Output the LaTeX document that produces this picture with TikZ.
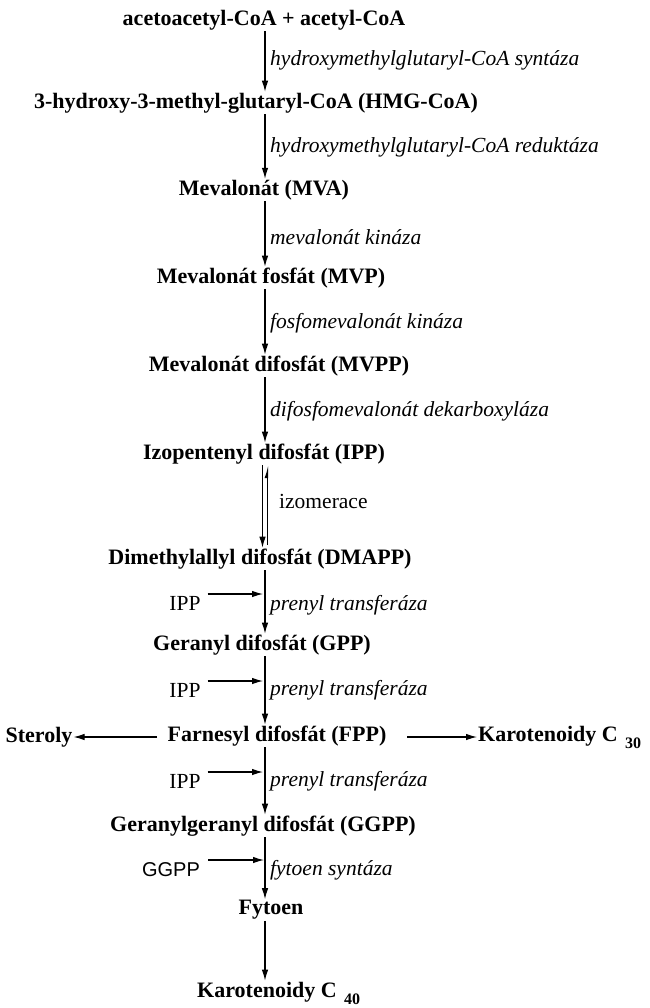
\documentclass[tikz,border=0pt]{standalone}
\usepackage{fontspec}
\setmainfont{Liberation Serif}
\newfontfamily\timesfont{Liberation Serif}
\newfontfamily\arialfont{Liberation Sans}
\usetikzlibrary{arrows.meta,calc}

\tikzset{
  latka/.style={font=\timesfont\fontsize{22}{24}\selectfont\bfseries, inner sep=1pt},
  enzym/.style={font=\timesfont\fontsize{21.5}{24}\selectfont\itshape, anchor=west, inner sep=1pt},
  vedlejsi/.style={font=\timesfont\fontsize{21.5}{24}\selectfont, inner sep=1pt},
  sipka/.style={line width=1.1pt, -{Latex[length=11pt,width=6.5pt]}},
}

\begin{document}
\begin{tikzpicture}[x=1pt, y=-1pt]

\useasboundingbox (0,0) rectangle (649,1008);

    \coordinate (osa) at (265,0);

% metabolity
\node[latka] (acac) at (264,20) {acetoacetyl-CoA + acetyl-CoA};
\node[latka] (hmg) at (256,103) {3-hydroxy-3-methyl-glutaryl-CoA (HMG-CoA)};
\node[latka] (mva) at (264,190) {Mevalonát (MVA)};
\node[latka] (mvp) at (271,278) {Mevalonát fosfát (MVP)};
\node[latka] (mvpp) at (279,366) {Mevalonát difosfát (MVPP)};
\node[latka] (ipp) at (264,454) {Izopentenyl difosfát (IPP)};
\node[latka] (dmapp) at (260,559) {Dimethylallyl difosfát (DMAPP)};
\node[latka] (gpp) at (262,645) {Geranyl difosfát (GPP)};
\node[latka] (fpp) at (277,736) {Farnesyl difosfát (FPP)};
\node[latka] (sterol) at (39,737) {Steroly};
\node[latka, anchor=west] (kar30) at (477,737) {Karotenoidy C\,\,\raisebox{-7pt}{\fontsize{16}{17}\selectfont 30}};
\node[latka] (ggpp) at (263,826) {Geranylgeranyl difosfát (GGPP)};
\node[latka] (fytoen) at (271,910) {Fytoen};
\node[latka, anchor=west] (kar40) at (196,993) {Karotenoidy C\,\,\raisebox{-7pt}{\fontsize{16}{17}\selectfont 40}};

% hlavni osa
\draw[sipka] (acac.south -| osa) -- (hmg.north -| osa);
\draw[sipka] (hmg.south -| osa) -- (mva.north -| osa);
\draw[sipka] (mva.south -| osa) -- (mvp.north -| osa);
\draw[sipka] (mvp.south -| osa) -- (mvpp.north -| osa);
\draw[sipka] (mvpp.south -| osa) -- (ipp.north -| osa);
\draw[sipka] (dmapp.south -| osa) -- (gpp.north -| osa);
\draw[sipka] (gpp.south -| osa) -- (fpp.north -| osa);
\draw[sipka] (fpp.south -| osa) -- (ggpp.north -| osa);
\draw[sipka] (ggpp.south -| osa) -- (fytoen.north -| osa);
\draw[sipka] (fytoen.south -| osa) -- (kar40.north -| osa);

% izomerace
\draw[sipka] ($(ipp.south -| osa)+(-2.5,0)$) -- ($(dmapp.north -| osa)+(-2.5,0)$);
\draw[line width=1.1pt, -{Latex[left,length=10pt,width=6pt]}] ($(dmapp.north -| osa)+(2.5,-3)$) -- ($(ipp.south -| osa)+(2.5,0)$);

% enzymy
\node[enzym] (e1) at (269,60) {hydroxymethylglutaryl-CoA syntáza};
\node[enzym] (e2) at (269,147) {hydroxymethylglutaryl-CoA reduktáza};
\node[enzym] (e3) at (269,237) {mevalonát kináza};
\node[enzym] (e4) at (269,323) {fosfomevalonát kináza};
\node[enzym] (e5) at (269,411) {difosfomevalonát dekarboxyláza};
\node[vedlejsi, anchor=west] (e6) at (278,501) {izomerace};
\node[enzym] (e7) at (269,605) {prenyl transferáza};
\node[enzym] (e8) at (269,690) {prenyl transferáza};
\node[enzym] (e9) at (269,781) {prenyl transferáza};
\node[enzym] (e10) at (269,870) {fytoen syntáza};

% vstupy z boku
\node[vedlejsi] (ipp1) at (185,603) {IPP};
\node[vedlejsi] (ipp2) at (185,690) {IPP};
\node[vedlejsi] (ipp3) at (185,781) {IPP};
\node[vedlejsi, font=\arialfont\fontsize{20}{22}\selectfont] (ggppin) at (171,870) {GGPP};

\coordinate (c1) at (263,594);
\coordinate (c2) at (263,681);
\coordinate (c3) at (263,772);
\coordinate (c4) at (264,860);
\draw[sipka] (ipp1.east |- c1) ++(6,0) -- (c1);
\draw[sipka] (ipp2.east |- c2) ++(6,0) -- (c2);
\draw[sipka] (ipp3.east |- c3) ++(6,0) -- (c3);
\draw[sipka] (ggppin.east |- c4) ++(7,0) -- (c4);

% vetveni FPP
\coordinate (lk) at (157,737);
\coordinate (pk) at (407,737);
\draw[sipka] (lk) -- (sterol.east);
\draw[sipka] (pk) -- (kar30.west);

  \end{tikzpicture}
\end{document}
